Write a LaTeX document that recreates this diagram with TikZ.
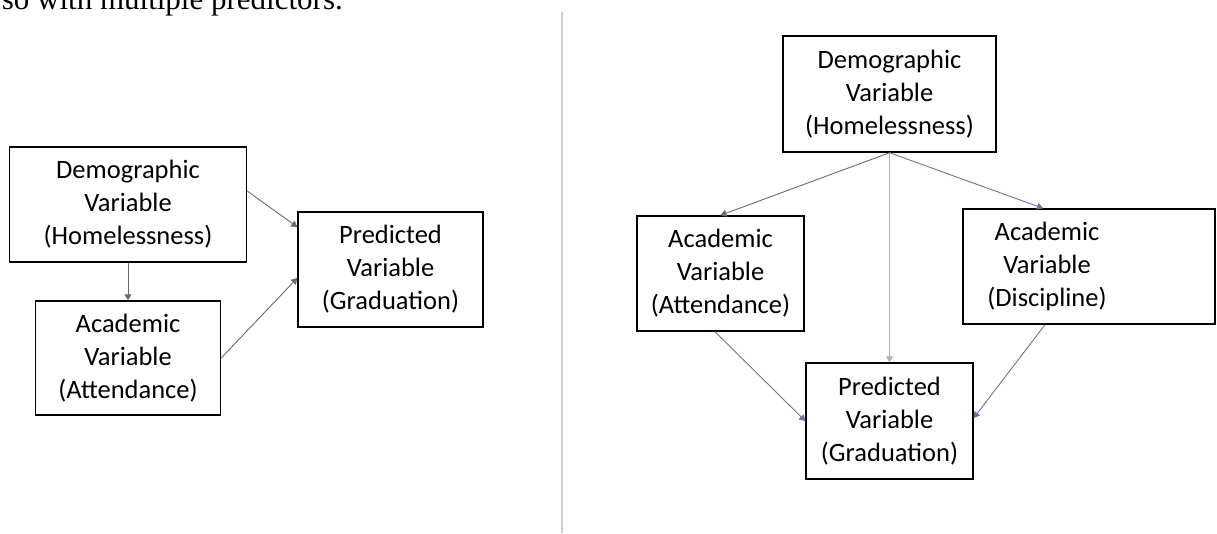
\documentclass[tikz,border=0pt]{standalone}
\usepackage{fontspec}
\setmainfont{Liberation Serif}
\newfontfamily\carlito{Carlito}
\usepackage{tikz}
\usetikzlibrary{arrows.meta}

\definecolor{grigiofreccia}{RGB}{105,105,110}
\definecolor{blufreccia}{RGB}{112,112,160}
\definecolor{chiarofreccia}{RGB}{178,178,184}
\definecolor{divisore}{RGB}{205,205,212}

\begin{document}
\begin{tikzpicture}[x=1pt, y=-1pt,
    scatola/.style={draw=black, line width=1.4pt, inner sep=0pt, align=center,
        font=\carlito\fontsize{26.5}{33}\selectfont},
    testo/.style={inner sep=0pt, align=center, font=\carlito\fontsize{26.5}{33}\selectfont},
    freccia/.style={-{Triangle[length=6pt,width=7pt]}, line width=0.9pt}]
    % Cornice dell'immagine
    \useasboundingbox (0,0) rectangle (1217,533);
    \clip (0,0) rectangle (1217,533);

    % Frase tagliata in alto
    \node[anchor=base east, inner sep=0pt, font=\fontsize{31}{37}\selectfont] (frase) at (343,9) {so with multiple predictors.};

    % Linea divisoria
    \draw[divisore, line width=1.8pt] (562,12) -- (562,533);

    % Schema di sinistra
    \node[scatola, minimum width=237, minimum height=115] (demoS) at (128,204.5) {Demographic\\Variable\\(Homelessness)};
    \node[scatola, minimum width=185, minimum height=114] (acadS) at (128,358) {Academic\\Variable\\(Attendance)};
    \node[scatola, minimum width=185, minimum height=115] (predS) at (390.5,269.5) {Predicted\\Variable\\(Graduation)};

    \draw[freccia, grigiofreccia] (demoS.south) -- (acadS.north);
    \draw[freccia, grigiofreccia] ([yshift=13.5pt]demoS.east) -- ([yshift=42.5pt]predS.west);
    \draw[freccia, grigiofreccia] (acadS.east) -- ([yshift=-8.5pt]predS.west);

    % Schema di destra
    \node[scatola, minimum width=213, minimum height=116] (demoD) at (889.5,94) {Demographic\\Variable\\(Homelessness)};
    \node[scatola, minimum width=167, minimum height=115] (attD) at (720.5,273.5) {Academic\\Variable\\(Attendance)};
    \node[scatola, minimum width=252, minimum height=115] (discD) at (1089,266.5) {};
    \node[testo] (discT) at (1047,266.5) {Academic\\Variable\\(Discipline)};
    \node[scatola, minimum width=167, minimum height=116] (predD) at (889.5,421) {Predicted\\Variable\\(Graduation)};

    \draw[freccia, grigiofreccia] (demoD.south) -- (attD.north);
    \draw[freccia, chiarofreccia] (demoD.south) -- (predD.north);
    \draw[freccia, blufreccia] (demoD.south) -- ([xshift=-46pt]discD.north);
    \draw[freccia, blufreccia] ([xshift=-5.5pt]attD.south) -- (predD.west);
    \draw[freccia, blufreccia] ([xshift=-44pt]discD.south) -- ([yshift=3pt]predD.east);
\end{tikzpicture}
\end{document}
